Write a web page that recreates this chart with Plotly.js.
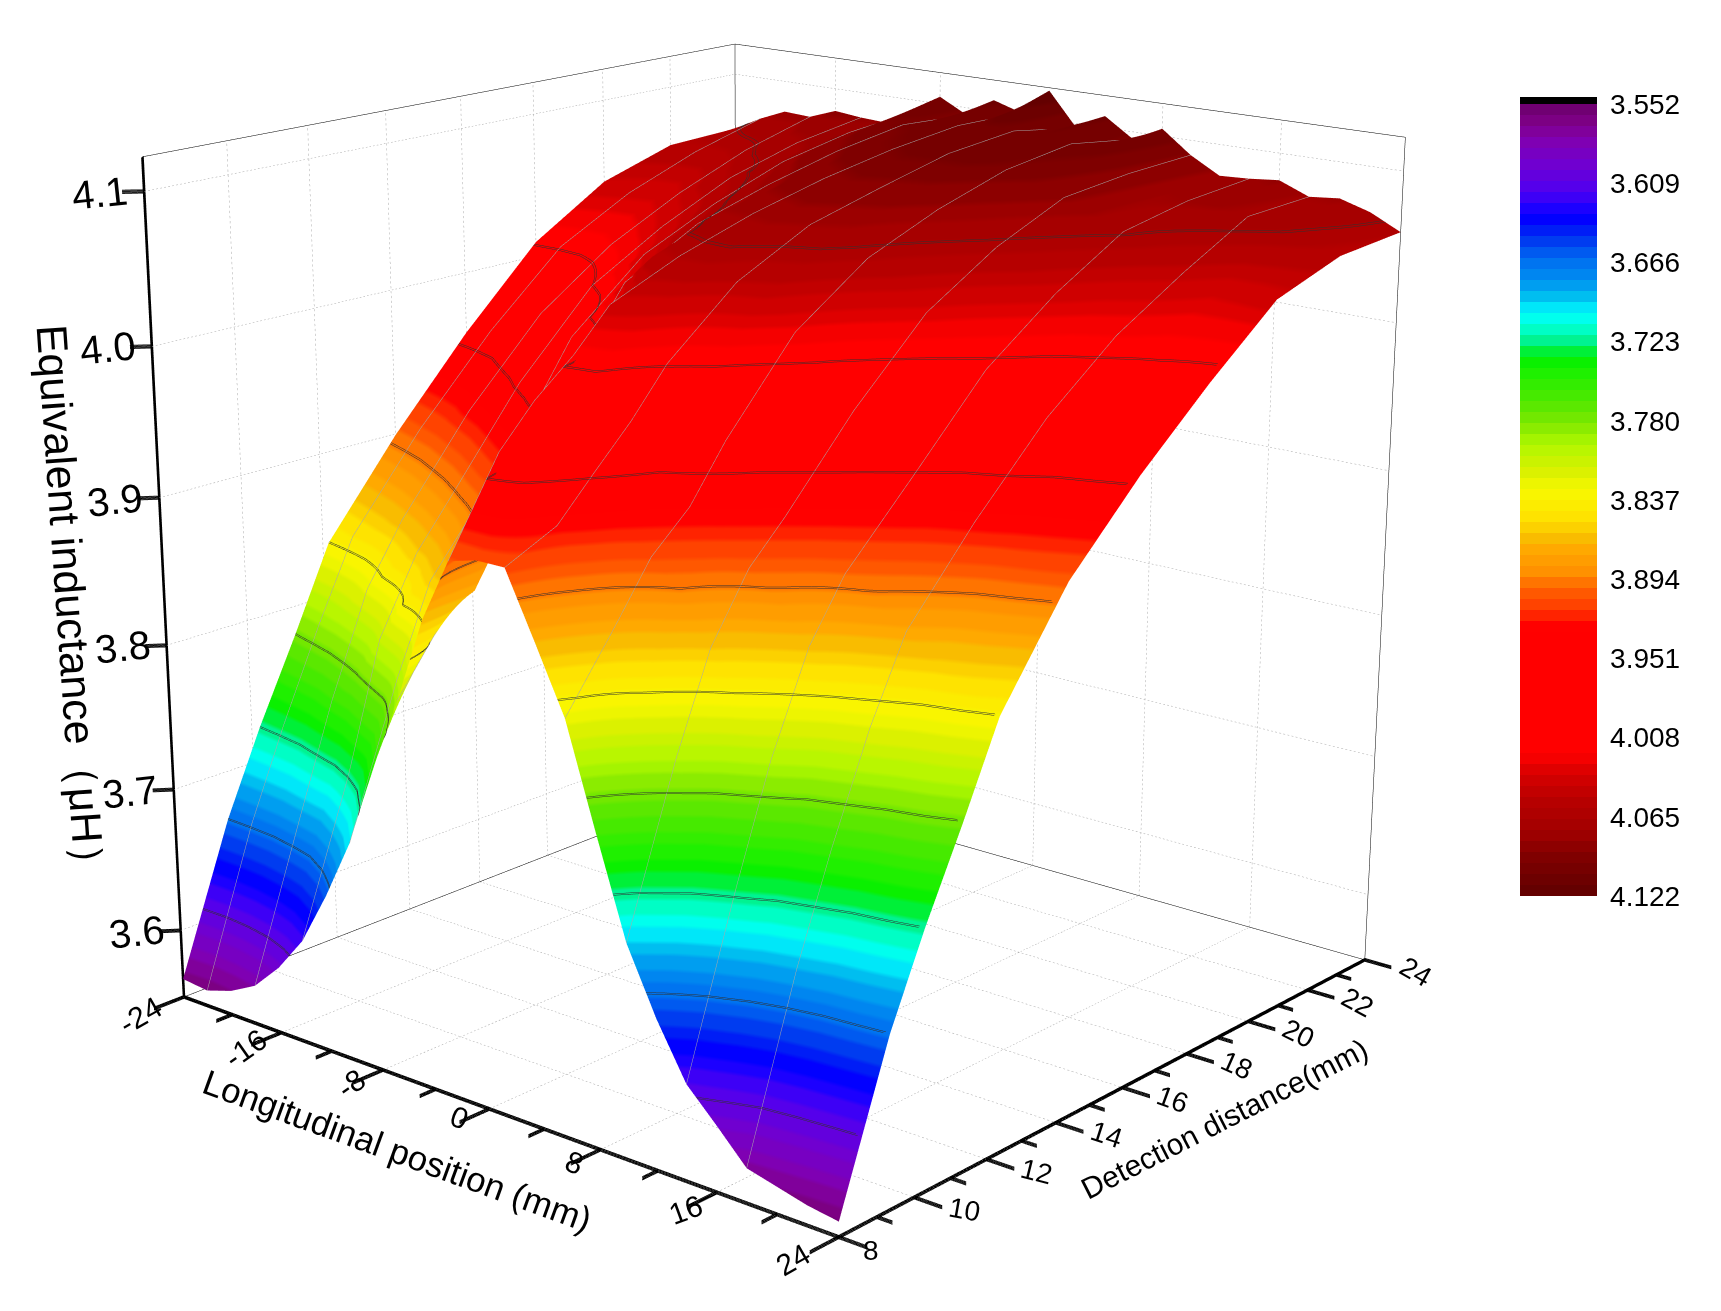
<!DOCTYPE html>
<html><head><meta charset="utf-8">
<script src="https://cdn.plot.ly/plotly-3.0.1.min.js"></script>
<style>html,body{margin:0;padding:0;background:#fff;overflow:hidden;width:1721px;height:1311px}
#plot{position:absolute;left:0;top:-983px;width:1721px;height:3400px}</style></head><body>
<div id="plot"></div>
<script>
const longitudinal=[-24,-22,-20,-18,-16,-14,-12,-10,-8,-6,-4,-2,0,2,4,6,8,10,12,14,16,18,20,22,24];
const detection=[8,9.3,10.2,11.2,12.15,14,16,18,20,22,24];
const inductance=[
[3.565,3.563,3.569,3.579,3.598,3.623,3.660,3.702,3.758,3.808,3.865,3.907,3.912,3.912,3.870,3.827,3.760,3.695,3.652,3.616,3.596,3.575,3.570,3.565,3.562],
[3.666,3.669,3.674,3.685,3.697,3.725,3.755,3.800,3.839,3.855,3.873,3.966,3.955,3.928,3.905,3.875,3.843,3.800,3.756,3.729,3.703,3.689,3.677,3.672,3.666],
[3.723,3.730,3.739,3.757,3.778,3.810,3.840,3.858,3.874,3.893,3.912,3.992,3.985,3.953,3.927,3.910,3.893,3.862,3.831,3.801,3.771,3.756,3.741,3.733,3.723],
[3.780,3.792,3.807,3.826,3.845,3.860,3.874,3.891,3.908,3.930,3.951,4.014,4.013,3.980,3.950,3.934,3.919,3.904,3.888,3.864,3.840,3.823,3.806,3.795,3.780],
[3.837,3.846,3.855,3.866,3.878,3.892,3.907,3.920,3.932,3.970,4.010,4.040,4.030,4.010,3.995,3.969,3.945,3.929,3.914,3.902,3.891,3.875,3.859,3.850,3.837],
[3.899,3.907,3.916,3.928,3.940,3.955,3.971,3.993,4.015,4.036,4.056,4.060,4.060,4.050,4.045,4.025,4.002,3.983,3.965,3.950,3.936,3.929,3.920,3.913,3.905],
[3.958,3.963,3.969,3.982,3.995,4.008,4.021,4.036,4.050,4.063,4.075,4.076,4.078,4.075,4.072,4.060,4.047,4.032,4.016,4.003,3.990,3.980,3.967,3.962,3.956],
[4.010,4.010,4.012,4.018,4.027,4.037,4.047,4.059,4.070,4.078,4.085,4.088,4.090,4.088,4.086,4.080,4.072,4.062,4.052,4.039,4.026,4.019,4.011,4.005,4.000],
[4.042,4.037,4.035,4.043,4.053,4.060,4.068,4.077,4.085,4.090,4.095,4.097,4.100,4.100,4.100,4.095,4.090,4.083,4.075,4.067,4.056,4.047,4.035,4.037,4.040],
[4.058,4.056,4.057,4.063,4.070,4.074,4.078,4.087,4.095,4.098,4.100,4.103,4.105,4.105,4.105,4.102,4.098,4.088,4.075,4.076,4.076,4.072,4.066,4.060,4.056],
[4.060,4.070,4.078,4.077,4.084,4.082,4.081,4.092,4.105,4.095,4.108,4.102,4.120,4.097,4.108,4.095,4.105,4.090,4.079,4.080,4.082,4.074,4.076,4.070,4.060]];
const xTicks=[-24,-16,-8,0,8,16,24];
const xMinor=[-20,-12,-4,4,12,20];
const yTicks=[8,10,12,14,16,18,20,22,24];
const yMinor=[9,11,13,15,17,19,21,23];
const zTicks=[3.6,3.7,3.8,3.9,4.0,4.1];
const barTicks=[3.552,3.609,3.666,3.723,3.780,3.837,3.894,3.951,4.008,4.065,4.122];
const xTitle='Longitudinal position (mm)';
const yTitle='Detection distance(mm)';
const zTitle='Equivalent inductance（μH）';
const paletteAt=[0,.025,.046,.076,.11,.13,.147,.168,.198,.223,.244,.265,.284,.303,.32,.341,.375,.404,.43,.463,.488,.525,.546,.563,.592,.613,.634,.66,.82,.845,.878,.92,.95,1];
const paletteCol=['#6a006a','#800088','#8000b0','#7000d0','#5000f0','#2000ff','#0000ff','#0030f0','#0070f0','#0090f0','#00c0f0','#00ffff','#00ffc8','#00f080','#00f000','#20f000','#50e800','#80e800','#b0f800','#d8f000','#f8f800','#ffe000','#f8c000','#ffa800','#ff9000','#ff6000','#ff4000','#ff0000','#ff0000','#d80000','#b80000','#a00000','#800000','#600000'];
const zMin=3.552,zMax=4.122,colorMin=3.547,xMin=-24,xMax=24,yMin=8,yMax=24;

function hex(c){return [1,3,5].map(i=>parseInt(c.substr(i,2),16));}
function paletteColor(f){let i=0;while(i<paletteAt.length-2&&f>paletteAt[i+1])i++;
 const t=(f-paletteAt[i])/(paletteAt[i+1]-paletteAt[i]),a=hex(paletteCol[i]),b=hex(paletteCol[i+1]);
 return 'rgb('+a.map((v,k)=>Math.round(v+(b[k]-v)*t)).join(',')+')';}
const pos=v=>(-v+zMax)/(zMax-colorMin);
const scale=[];const bands=72;
for(let i=0;i<bands;i++){const lo=zMin+(zMax-zMin)*i/bands,hi=zMin+(zMax-zMin)*(i+1)/bands,c=paletteColor((i+.5)/bands);
 scale.unshift([pos(lo),c]);scale.unshift([pos(hi),c]);}
scale.push([pos(zMin),'#000']);scale.push([1,'#000']);

const surface={type:'surface',x:longitudinal,y:detection,z:inductance,
 surfacecolor:inductance.map(r=>r.map(v=>-v)),cmin:-zMax,cmax:-colorMin,colorscale:scale,
 lighting:{ambient:1,diffuse:0,specular:0,roughness:1,fresnel:0},hoverinfo:'skip',
 contours:{x:{show:true,start:-22,end:22,size:4,color:'#a8a8a8',width:1,highlight:false},
  y:{show:false,highlight:false},
  z:{show:true,start:3.609,end:4.066,size:0.057,color:'#303030',width:2,highlight:false}},
 colorbar:{x:1520/1721,xanchor:'left',y:1-1080/3400,yanchor:'top',lenmode:'pixels',len:799,thickness:77,thicknessmode:'pixels',
  outlinewidth:0,ticks:'outside',ticklen:8,tickcolor:'rgba(0,0,0,0)',tickmode:'array',tickvals:barTicks.map(v=>-v),ticktext:barTicks.map(v=>v.toFixed(3)),
  tickfont:{family:'Liberation Sans',size:28,color:'#000'},xpad:0,ypad:0}};
// same surface again, its contour lines sit beside the first set so they read heavier
const surface2=Object.assign({},surface,{showscale:false,colorbar:undefined,
 contours:{x:{show:false,highlight:false},y:{show:false,highlight:false},
  z:{show:true,start:3.6098,end:4.0668,size:0.057,color:'#303030',width:2,highlight:false}}});

function seg(list,width,color){const x=[],y=[],z=[];list.forEach(s=>{x.push(s[0],s[3],null);y.push(s[1],s[4],null);z.push(s[2],s[5],null);});
 return {type:'scatter3d',mode:'lines',x,y,z,line:{color:color||'#000',width},hoverinfo:'skip',showlegend:false};}
// the renderer draws one pixel lines, so heavy lines are laid side by side
function heavy(list,n){const out=[];list.forEach(s=>{const vertical=s[0]===s[3]&&s[1]===s[4];
 for(let k=-n;k<=n;k++){const d=k/n;out.push(vertical?[s[0]+d*.12,s[1]-d*.06,s[2],s[3]+d*.12,s[4]-d*.06,s[5]]:[s[0],s[1],s[2]+d*.0012,s[3],s[4],s[5]+d*.0012]);}});return out;}
// dotted grid lines: each line is cut into short pieces
function dotted(list,pieces){const out=[];list.forEach(s=>{for(let i=0;i<pieces;i++){const a=i/pieces,b=(i+.45)/pieces;
 out.push([s[0]+(s[3]-s[0])*a,s[1]+(s[4]-s[1])*a,s[2]+(s[5]-s[2])*a,s[0]+(s[3]-s[0])*b,s[1]+(s[4]-s[1])*b,s[2]+(s[5]-s[2])*b]);}});return out;}

const thin=[[xMin,yMax,zMin,xMax,yMax,zMin],[xMin,yMin,zMin,xMin,yMax,zMin],[xMin,yMax,zMin,xMin,yMax,zMax],[xMax,yMax,zMin,xMax,yMax,zMax],
 [xMin,yMin,zMax,xMin,yMax,zMax],[xMin,yMax,zMax,xMax,yMax,zMax]];
const thick=[[xMin,yMin,zMin,xMax,yMin,zMin],[xMax,yMin,zMin,xMax,yMax,zMin],[xMin,yMin,zMin,xMin,yMin,zMax]];
xTicks.forEach(t=>thick.push([t,yMin,zMin,t,yMin-.75,zMin]));
yTicks.forEach(t=>thick.push([xMax,t,zMin,xMax+1.8,t,zMin]));
zTicks.forEach(t=>thick.push([xMin,yMin,t,xMin-.8,yMin-.28,t]));
xMinor.forEach(t=>thick.push([t,yMin,zMin,t,yMin-.4,zMin]));
yMinor.forEach(t=>thick.push([xMax,t,zMin,xMax+1,t,zMin]));
const grid=[];
xTicks.slice(1,-1).forEach(t=>{grid.push([t,yMin,zMin,t,yMax,zMin]);grid.push([t,yMax,zMin,t,yMax,zMax]);});
yTicks.slice(1,-1).forEach(t=>{grid.push([xMin,t,zMin,xMax,t,zMin]);grid.push([xMin,t,zMin,xMin,t,zMax]);});
zTicks.forEach(t=>{grid.push([xMin,yMin,t,xMin,yMax,t]);grid.push([xMin,yMax,t,xMax,yMax,t]);});

const font=(s)=>({family:'Liberation Sans',size:s,color:'#000'});
const ann=[];
const xAngle=[-30,-35,-35,20,20,-20,-30];
const xOffset=[[-44,-19],[-36,-16],[-32,-14],[-30,-9],[-26,-13],[-31,-17],[-46,-22]];
xTicks.forEach((t,i)=>ann.push({x:t,y:yMin,z:zMin,text:String(t),showarrow:false,font:font(30),textangle:xAngle[i],xshift:xOffset[i][0],yshift:xOffset[i][1]}));
const yAngle=[0,10,14,18,20,24,26,28,30];
yTicks.forEach((t,i)=>ann.push({x:xMax,y:t,z:zMin,text:String(t),showarrow:false,font:font(28),textangle:yAngle[i],xshift:i?50:32,yshift:i?-12:-13}));
zTicks.forEach(t=>ann.push({x:xMin,y:yMin,z:t,text:t.toFixed(1),showarrow:false,font:font(40),textangle:-6,xshift:-44,yshift:-2}));
ann.push({x:0,y:yMin,z:zMin,text:xTitle,showarrow:false,font:font(35),textangle:20,xshift:-92,yshift:-42});
ann.push({x:xMax,y:16,z:zMin,text:yTitle,showarrow:false,font:font(30),textangle:-27,xshift:102,yshift:-31});
ann.push({x:xMin,y:yMin,z:3.85,text:zTitle,showarrow:false,font:font(43),textangle:86,xshift:-92,yshift:-33});

const axis={showspikes:false,showline:false,zeroline:false,showgrid:false,showticklabels:false,ticks:'',title:{text:''},showbackground:false};
const layout={width:1721,height:3400,margin:{l:0,r:0,t:0,b:0},paper_bgcolor:'#fff',showlegend:false,
 scene:{domain:{x:[0,.9003],y:[0,1]},aspectmode:'manual',aspectratio:{x:56/48,y:20/16,z:.66/.57},
  camera:{eye:{x:2.931,y:-3.473,z:1.355},center:{x:.027,y:-.044,z:-.154},up:{x:-.0035,y:-.003,z:1}},
  xaxis:Object.assign({},axis,{range:[-28,28]}),
  yaxis:Object.assign({},axis,{range:[6,26]}),
  zaxis:Object.assign({},axis,{range:[3.507,4.167]}),
  annotations:ann}};
Plotly.newPlot('plot',[surface,surface2,seg(dotted(grid,170),1,'#a8a8a8'),seg(thin,1),seg(heavy(thick,3),1)],layout,{displayModeBar:false});
</script></body></html>
